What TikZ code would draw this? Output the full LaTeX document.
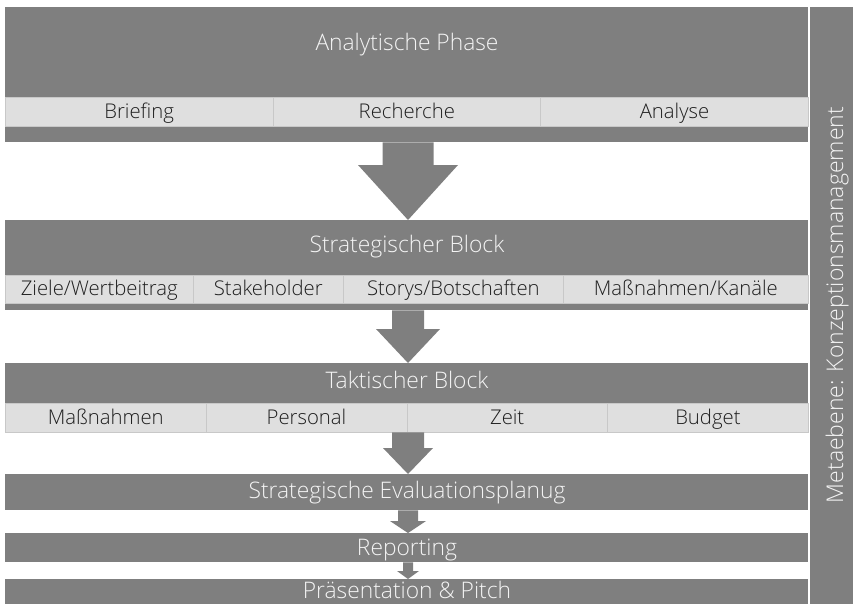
\documentclass[tikz,border=0pt]{standalone}
\usepackage{fontspec}
\setmainfont{Open Sans}
\newfontfamily\lightfont{Open Sans Light}
\usetikzlibrary{calc}
\definecolor{blk}{HTML}{7F7F7F}
\definecolor{stripfill}{HTML}{DFDFDF}
\definecolor{stripline}{HTML}{C8C8C8}
\definecolor{ttext}{HTML}{F4F4F4}
\definecolor{stext}{HTML}{1E1E1E}
\tikzset{
  box/.style={fill=blk, draw=none, inner sep=0pt, anchor=north west, minimum width=803pt},
  cell/.style={fill=stripfill, draw=stripline, line width=0.6pt, inner sep=0pt, anchor=north west,
    text=stext, font=\lightfont\fontsize{20.3}{20.3}\selectfont, text height=15.5pt, text depth=3pt},
  ttl/.style={text=ttext, font=\lightfont\fontsize{22.8}{22.8}\selectfont, anchor=base, inner sep=0pt},
  arr/.style={fill=blk, draw=none}
}
\newcommand{\blkarrow}[5]{%
  \fill[arr] let \p1=(#1), \p2=(#2) in
    (\x1-#3pt,\y1) -- (\x1+#3pt,\y1) -- (\x1+#3pt,\y2+#5pt) -- (\x1+#4pt,\y2+#5pt)
    -- (\x1,\y2) -- (\x1-#4pt,\y2+#5pt) -- (\x1-#3pt,\y2+#5pt) -- cycle;}
\begin{document}
\begin{tikzpicture}[x=1pt,y=-1pt]
\useasboundingbox (0,0) rectangle (853,603);
\coordinate (c) at (408,0);
% blocks
\node[box, minimum height=135pt] (b1) at (5,7) {};
\node[box, minimum height=90pt] (b2) at (5,220) {};
\node[box, minimum height=69pt] (b3) at (5,363) {};
\node[box, minimum height=36pt] (b4) at (5,474) {};
\node[box, minimum height=29pt] (b5) at (5,533) {};
\node[box, minimum height=26pt] (b6) at (5,579) {};
\node[box, minimum width=43pt, minimum height=598pt] (meta) at (810,7) {};
% titles
\node[ttl] (t1) at (407,50) {Analytische Phase};
\node[ttl] (t2) at (407,252) {Strategischer Block};
\node[ttl] (t3) at (407,388) {Taktischer Block};
\node[ttl] (t4) at (407,498) {Strategische Evaluationsplanug};
\node[ttl] (t5) at (407,555) {Reporting};
\node[ttl] (t6) at (407,598) {Präsentation \& Pitch};
\node[ttl, rotate=90, font=\lightfont\fontsize{23}{23}\selectfont] (mt) at (843,305) {Metaebene: Konzeptionsmanagement};
% strip 1
\node[cell, minimum width=267.67pt, minimum height=29pt] (s11) at (5,97) {Briefing};
\node[cell, minimum width=267.67pt, minimum height=29pt] (s12) at (272.67,97) {Recherche};
\node[cell, minimum width=267.67pt, minimum height=29pt] (s13) at (540.33,97) {Analyse};
% strip 2
\node[cell, minimum width=188pt, minimum height=28pt] (s21) at (5,275) {Ziele/Wertbeitrag};
\node[cell, minimum width=150pt, minimum height=28pt] (s22) at (193,275) {Stakeholder};
\node[cell, minimum width=220pt, minimum height=28pt] (s23) at (343,275) {Storys/Botschaften};
\node[cell, minimum width=245pt, minimum height=28pt] (s24) at (563,275) {Maßnahmen/Kanäle};
% strip 3
\node[cell, minimum width=200.75pt, minimum height=29pt] (s31) at (5,403) {Maßnahmen};
\node[cell, minimum width=200.75pt, minimum height=29pt] (s32) at (205.75,403) {Personal};
\node[cell, minimum width=200.75pt, minimum height=29pt] (s33) at (406.5,403) {Zeit};
\node[cell, minimum width=200.75pt, minimum height=29pt] (s34) at (607.25,403) {Budget};
% arrows
\blkarrow{b1.south -| c}{b2.north -| c}{25.5}{50}{55}
\blkarrow{b2.south -| c}{b3.north -| c}{16}{32}{34}
\blkarrow{b3.south -| c}{b4.north -| c}{16}{25}{26}
\blkarrow{b4.south -| c}{b5.north -| c}{10}{18}{12}
\blkarrow{b5.south -| c}{b6.north -| c}{5}{11}{8}
\end{tikzpicture}
\end{document}
